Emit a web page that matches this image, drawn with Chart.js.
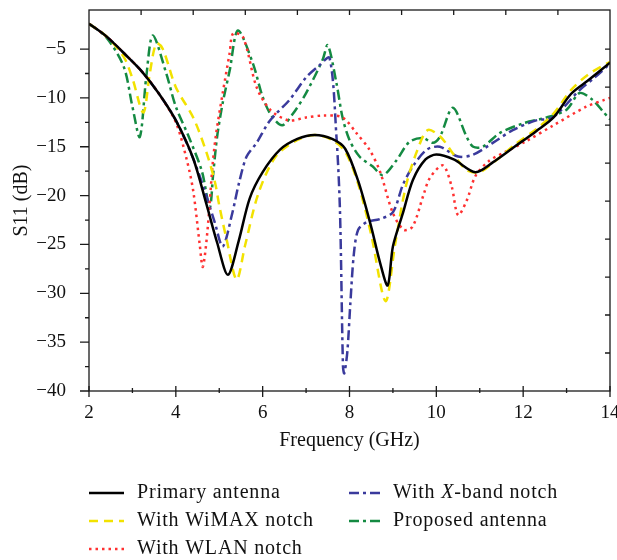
<!DOCTYPE html>
<html>
<head>
<meta charset="utf-8">
<script src="https://cdn.jsdelivr.net/npm/chart.js@4.4.0/dist/chart.umd.min.js"></script>
<style>
  html, body { margin: 0; padding: 0; background: #fff; }
  #wrap { width: 617px; height: 560px; }
</style>
</head>
<body>
<div id="wrap"><canvas id="s11Chart" width="617" height="560"></canvas></div>
<script>
// Tick labels
const xTicks = [2, 4, 6, 8, 10, 12, 14];
const yTicks = [-40, -35, -30, -25, -20, -15, -10, -5];

// Primary antenna
const primaryFreq = [2, 2.4, 2.8, 3.2, 3.6, 4.0, 4.4, 4.7, 4.95, 5.2, 5.45, 5.7, 6.0, 6.4, 6.8, 7.2, 7.6, 7.9, 8.2, 8.5, 8.7, 8.88, 9.0, 9.23, 9.46, 9.75, 10.0, 10.4, 10.9, 11.3, 11.8, 12.3, 12.7, 13.1, 13.5, 14];
const primaryS11 = [-2.4, -3.7, -5.4, -7.2, -9.5, -12.3, -16.2, -20.8, -24.8, -28.1, -24.6, -20.3, -17.6, -15.3, -14.2, -13.8, -14.2, -15.2, -18.5, -23.2, -26.8, -29.2, -25.2, -21.8, -18.4, -16.3, -15.8, -16.3, -17.6, -16.6, -15.0, -13.4, -12.0, -9.6, -8.2, -6.4];

// With WiMAX notch
const wimaxFreq = [2, 2.4, 2.8, 3.0, 3.25, 3.4, 3.55, 3.7, 4.0, 4.4, 4.7, 4.9, 5.0, 5.17, 5.4, 5.6, 5.9, 6.3, 6.8, 7.2, 7.6, 7.9, 8.2, 8.5, 8.83, 9.05, 9.3, 9.55, 9.8, 10.1, 10.4, 10.7, 11.0, 11.4, 11.8, 12.3, 12.7, 13.1, 13.5, 14];
const wimaxS11 = [-2.4, -3.7, -5.8, -8.0, -11.5, -7.5, -4.4, -5.0, -8.9, -12.0, -15.5, -18.6, -21.0, -24.5, -28.6, -25.0, -19.8, -16.0, -14.3, -13.8, -14.3, -15.5, -18.8, -24.0, -30.8, -25.0, -19.0, -15.5, -13.3, -14.0, -15.8, -17.4, -17.6, -16.3, -14.8, -13.2, -11.6, -9.2, -7.6, -6.3];

// With WLAN notch
const wlanFreq = [2, 2.4, 2.8, 3.2, 3.6, 4.0, 4.25, 4.4, 4.55, 4.62, 4.72, 4.85, 4.93, 5.08, 5.24, 5.32, 5.55, 5.86, 6.17, 6.6, 7.0, 7.4, 7.84, 8.16, 8.46, 8.7, 9.0, 9.25, 9.45, 9.7, 9.85, 10.15, 10.35, 10.5, 10.7, 10.9, 11.2, 11.6, 12.04, 12.7, 13.45, 13.87, 14];
const wlanS11 = [-2.4, -3.7, -5.4, -7.2, -9.5, -12.5, -16.3, -19.5, -25.0, -27.3, -24.0, -16.7, -13.6, -9.5, -5.4, -3.4, -3.8, -8.9, -11.2, -12.3, -12.0, -11.8, -12.0, -13.6, -15.3, -17.5, -21.8, -23.5, -23.2, -20.0, -18.2, -16.9, -19.0, -22.0, -20.5, -18.0, -16.5, -15.5, -14.5, -12.8, -10.9, -10.2, -10.0];

// With X-band notch
const xbandFreq = [2, 2.4, 2.8, 3.2, 3.6, 4.0, 4.4, 4.7, 4.9, 5.08, 5.3, 5.45, 5.63, 5.86, 6.17, 6.62, 7.0, 7.3, 7.54, 7.7, 7.78, 7.85, 7.88, 7.95, 8.02, 8.1, 8.2, 8.4, 8.7, 9.0, 9.23, 9.46, 9.78, 10.08, 10.5, 10.85, 11.3, 11.76, 12.3, 12.68, 13.3, 13.65, 14];
const xbandS11 = [-2.4, -3.7, -5.4, -7.2, -9.5, -12.3, -16.2, -20.0, -22.8, -25.2, -21.8, -18.8, -16.0, -14.6, -12.3, -10.2, -7.9, -6.7, -5.9, -14.0, -21.5, -37.5, -38.2, -36.0, -31.0, -26.0, -23.5, -22.7, -22.4, -21.7, -18.9, -17.0, -15.3, -15.0, -16.0, -15.8, -14.6, -13.3, -12.3, -12.0, -9.2, -7.9, -6.5];

// Proposed antenna
const proposedFreq = [2, 2.4, 2.8, 3.0, 3.17, 3.32, 3.47, 3.78, 4.0, 4.3, 4.6, 4.78, 4.86, 4.95, 5.08, 5.24, 5.43, 5.77, 6.0, 6.2, 6.45, 6.7, 7.0, 7.38, 7.5, 7.7, 7.84, 8.0, 8.23, 8.53, 8.77, 9.08, 9.38, 9.69, 9.92, 10.08, 10.38, 10.7, 10.85, 11.07, 11.46, 12.0, 12.54, 13.0, 13.3, 13.6, 13.84, 14];
const proposedS11 = [-2.4, -3.8, -6.8, -10.9, -14.0, -7.8, -3.6, -7.5, -10.9, -14.0, -17.5, -21.2, -17.8, -14.0, -10.5, -7.2, -3.1, -6.4, -9.9, -11.8, -12.8, -11.6, -9.5, -6.1, -4.6, -8.5, -12.0, -14.3, -16.0, -17.0, -17.9, -16.4, -14.5, -14.1, -14.6, -14.0, -11.0, -14.0, -15.0, -15.0, -13.6, -12.6, -12.0, -11.2, -9.5, -10.2, -11.4, -12.2];

const serif = "'Liberation Serif', 'DejaVu Serif', serif";
const pts = (fs, vs) => fs.map((f, i) => ({x: f, y: vs[i]}));

const series = [
  {label: 'Primary antenna', data: pts(primaryFreq, primaryS11), color: '#000000', dash: []},
  {label: 'With WiMAX notch', data: pts(wimaxFreq, wimaxS11), color: '#f2e200', dash: [9, 6]},
  {label: 'With WLAN notch', data: pts(wlanFreq, wlanS11), color: '#ff3030', dash: [2.5, 4]},
  {label: 'With X-band notch', data: pts(xbandFreq, xbandS11), color: '#3a3a9c', dash: [10, 4, 3, 4]},
  {label: 'Proposed antenna', data: pts(proposedFreq, proposedS11), color: '#148a42', dash: [10, 4, 3, 4]}
];

// frame and tick marks in the style of the original plot
const frameTicks = {
  id: 'frameTicks',
  afterDraw(chart) {
    const {ctx, chartArea: a} = chart;
    const x = chart.scales.x, y = chart.scales.y;
    ctx.save();
    ctx.strokeStyle = '#1a1a1a';
    ctx.lineWidth = 1.3;
    ctx.strokeRect(a.left, a.top, a.right - a.left, a.bottom - a.top);
    ctx.beginPath();
    // bottom: major every 2, minor between
    xTicks.forEach((v, i) => {
      const px = x.getPixelForValue(v);
      ctx.moveTo(px, a.bottom - 5); ctx.lineTo(px, a.bottom + 6);
      if (i < xTicks.length - 1) {
        const mx = x.getPixelForValue((v + xTicks[i + 1]) / 2);
        ctx.moveTo(mx, a.bottom - 3); ctx.lineTo(mx, a.bottom + 2);
      }
    });
    // left: major outward, minor outward
    yTicks.forEach((v, i) => {
      const py = y.getPixelForValue(v);
      ctx.moveTo(a.left - 9, py); ctx.lineTo(a.left, py);
      if (i < yTicks.length - 1) {
        const my = y.getPixelForValue((v + yTicks[i + 1]) / 2);
        ctx.moveTo(a.left - 4, my); ctx.lineTo(a.left, my);
      }
    });
    // top: ten equal divisions, inward
    for (let i = 1; i < 10; i++) {
      const px = a.left + (a.right - a.left) * i / 10;
      ctx.moveTo(px, a.top); ctx.lineTo(px, a.top + 5);
    }
    // right: nine equal divisions between -40 and -5, inward
    const yb = y.getPixelForValue(-40), yt = y.getPixelForValue(-5);
    for (let i = 1; i <= 9; i++) {
      const py = yb + (yt - yb) * i / 9;
      ctx.moveTo(a.right - 5, py); ctx.lineTo(a.right, py);
    }
    ctx.stroke();
    ctx.restore();
  }
};

const legendBox = {
  id: 'legendBox',
  afterDraw(chart) {
    const ctx = chart.ctx;
    const cols = [{lx: 89, tx: 137}, {lx: 349, tx: 393}];
    const rows = [493, 521, 549];
    const place = [[0, 0], [0, 1], [0, 2], [1, 0], [1, 1]];
    const fontN = '20px ' + serif;
    const fontI = 'italic 20px ' + serif;
    ctx.save();
    ctx.letterSpacing = '0.8px';
    ctx.textBaseline = 'middle';
    ctx.fillStyle = '#111';
    series.forEach((s, i) => {
      const c = cols[place[i][0]], ry = rows[place[i][1]];
      ctx.beginPath();
      ctx.strokeStyle = s.color;
      ctx.lineWidth = 2.6;
      ctx.setLineDash(s.dash);
      ctx.moveTo(c.lx, ry); ctx.lineTo(c.lx + 35, ry);
      ctx.stroke();
      ctx.setLineDash([]);
      if (s.label === 'With X-band notch') {
        let tx = c.tx;
        ctx.font = fontN; ctx.fillText('With ', tx, ry); tx += ctx.measureText('With ').width;
        ctx.font = fontI; ctx.fillText('X', tx, ry); tx += ctx.measureText('X').width;
        ctx.font = fontN; ctx.fillText('-band notch', tx, ry);
      } else {
        ctx.font = fontN;
        ctx.fillText(s.label, c.tx, ry);
      }
    });
    ctx.restore();
  }
};

new Chart(document.getElementById('s11Chart'), {
  type: 'line',
  data: {
    datasets: series.map((s, i) => ({
      label: s.label,
      data: s.data,
      borderColor: s.color,
      borderDash: s.dash,
      borderWidth: 2.5,
      pointRadius: 0,
      tension: 0.3,
      fill: false,
      order: i
    }))
  },
  options: {
    responsive: false,
    animation: false,
    devicePixelRatio: 1,
    layout: {padding: {top: 10, right: 7, bottom: 106, left: 0}},
    plugins: {legend: {display: false}, tooltip: {enabled: false}},
    scales: {
      x: {
        type: 'linear', min: 2, max: 14,
        grid: {display: false}, border: {display: false},
        afterBuildTicks: s => { s.ticks = xTicks.map(v => ({value: v})); },
        afterFit: s => { s.height = 63; s.paddingLeft = 0; s.paddingRight = 0; },
        ticks: {font: {family: serif, size: 19}, color: '#111', padding: 3, maxRotation: 0, autoSkip: false},
        title: {display: true, text: 'Frequency (GHz)', color: '#111', font: {family: serif, size: 20}, padding: {top: 0, bottom: 1}}
      },
      y: {
        type: 'linear', min: -40, max: -1,
        grid: {display: false}, border: {display: false},
        afterBuildTicks: s => { s.ticks = yTicks.map(v => ({value: v})); },
        afterFit: s => { s.width = 89; s.paddingTop = 0; s.paddingBottom = 0; },
        ticks: {font: {family: serif, size: 19}, color: '#111', padding: 15,
                callback: v => String(v).replace('-', '\u2212')},
        title: {display: true, text: 'S11 (dB)', color: '#111', font: {family: serif, size: 20}, padding: {top: 10, bottom: 0}}
      }
    }
  },
  plugins: [frameTicks, legendBox]
});
</script>
</body>
</html>
